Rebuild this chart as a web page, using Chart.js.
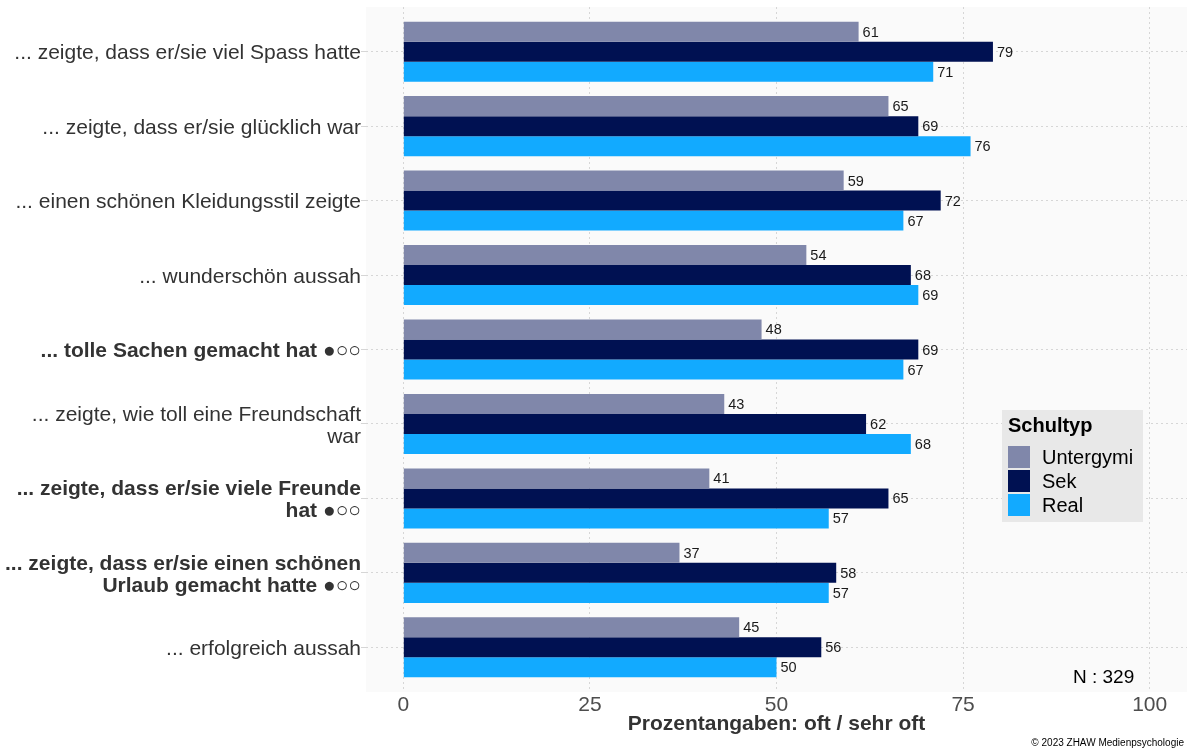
<!DOCTYPE html>
<html>
<head>
<meta charset="utf-8">
<script src="https://cdn.jsdelivr.net/npm/chart.js@4.4.0/dist/chart.umd.min.js"></script>
<style>
  body { margin: 0; background: #fff; }
  #wrap { width: 1187px; height: 751px; position: relative; }
</style>
</head>
<body>
<div id="wrap"><canvas id="surveyChart"></canvas></div>
<script>
// Kategorien (y-Achse)
const categories = [
    '... zeigte, dass er/sie viel Spass hatte',
    '... zeigte, dass er/sie glücklich war',
    '... einen schönen Kleidungsstil zeigte',
    '... wunderschön aussah',
    '... tolle Sachen gemacht hat ●○○',
    ['... zeigte, wie toll eine Freundschaft', 'war'],
    ['... zeigte, dass er/sie viele Freunde', 'hat ●○○'],
    ['... zeigte, dass er/sie einen schönen', 'Urlaub gemacht hatte ●○○'],
    '... erfolgreich aussah'
];
const boldCategories = [4, 6, 7];

// Werte pro Schultyp
const untergymi = [61, 65, 59, 54, 48, 43, 41, 37, 45];
const sek = [79, 69, 72, 68, 69, 62, 65, 58, 56];
const real = [71, 76, 67, 69, 67, 68, 57, 57, 50];

const seriesNames = ['Untergymi', 'Sek', 'Real'];
const seriesColors = ['#8087aa', '#001152', '#12aaff'];
const xTicks = [0, 25, 50, 75, 100];

const FONT = "'Liberation Sans', Arial, sans-serif";

function toPoints(values) {
    return values.map((v, i) => ({ x: v, y: i }));
}

// Hintergrund des Panels
const panelBg = {
    id: 'panelBg',
    beforeDraw(chart) {
        const { ctx, chartArea: a } = chart;
        ctx.save();
        ctx.fillStyle = '#fafafa';
        ctx.fillRect(a.left, a.top, a.right - a.left, a.bottom - a.top);
        ctx.restore();
    }
};

// Werte neben den Balken
const valueLabels = {
    id: 'valueLabels',
    afterDatasetsDraw(chart) {
        const ctx = chart.ctx;
        ctx.save();
        ctx.font = '14.5px ' + FONT;
        ctx.fillStyle = '#1a1a1a';
        ctx.textBaseline = 'middle';
        ctx.textAlign = 'left';
        chart.data.datasets.forEach((ds, di) => {
            chart.getDatasetMeta(di).data.forEach((bar, i) => {
                ctx.fillText(ds.data[i].x, bar.x + 4, bar.y + 1);
            });
        });
        ctx.restore();
    }
};

// Legende + Notizen
const extras = {
    id: 'extras',
    afterDraw(chart) {
        const ctx = chart.ctx;
        ctx.save();
        ctx.fillStyle = '#e8e8e8';
        ctx.fillRect(1002, 410, 141, 112);
        ctx.fillStyle = '#000';
        ctx.textBaseline = 'middle';
        ctx.textAlign = 'left';
        ctx.font = 'bold 20px ' + FONT;
        ctx.fillText('Schultyp', 1008, 426);
        ctx.font = '20px ' + FONT;
        chart.data.datasets.forEach((ds, i) => {
            const y = 446 + i * 24;
            ctx.fillStyle = ds.backgroundColor;
            ctx.fillRect(1008, y, 22, 22);
            ctx.fillStyle = '#000';
            ctx.fillText(ds.label, 1042, y + 12);
        });
        ctx.font = '19px ' + FONT;
        ctx.fillStyle = '#000';
        ctx.fillText('N : 329', 1073, 678);
        ctx.font = '10px ' + FONT;
        ctx.textAlign = 'right';
        ctx.fillStyle = '#000';
        ctx.fillText('© 2023 ZHAW Medienpsychologie', 1184, 743);
        ctx.restore();
    }
};

const ctx = document.getElementById('surveyChart').getContext('2d');
new Chart(ctx, {
    type: 'bar',
    data: {
        datasets: [
            { label: seriesNames[0], data: toPoints(untergymi), backgroundColor: seriesColors[0] },
            { label: seriesNames[1], data: toPoints(sek), backgroundColor: seriesColors[1] },
            { label: seriesNames[2], data: toPoints(real), backgroundColor: seriesColors[2] }
        ]
    },
    options: {
        indexAxis: 'y',
        responsive: true,
        maintainAspectRatio: false,
        animation: false,
        layout: { padding: { top: 7, right: 0, left: 0, bottom: 0 } },
        datasets: {
            bar: { categoryPercentage: 0.806, barPercentage: 1.0 }
        },
        plugins: {
            legend: { display: false },
            tooltip: { enabled: false }
        },
        scales: {
            x: {
                type: 'linear',
                min: -5,
                max: 105,
                afterBuildTicks: s => { s.ticks = xTicks.map(v => ({ value: v })); },
                afterFit: s => { s.height = 59; },
                border: { display: false, dash: [2, 3] },
                grid: { color: '#d6d6d6', drawTicks: false, lineWidth: 1 },
                ticks: {
                    padding: 1,
                    color: '#4d4d4d',
                    font: { family: FONT, size: 21 }
                },
                title: {
                    display: true,
                    text: 'Prozentangaben: oft / sehr oft',
                    color: '#333',
                    padding: { top: 0, bottom: 14 },
                    font: { family: FONT, size: 21, weight: 'bold' }
                }
            },
            y: {
                type: 'linear',
                min: -0.6,
                max: 8.6,
                reverse: true,
                offset: false,
                afterBuildTicks: s => { s.ticks = categories.map((c, i) => ({ value: i })); },
                afterFit: s => { s.width = 366; s.paddingTop = 0; s.paddingBottom = 0; },
                border: { display: false, dash: [2, 3] },
                grid: { color: '#d6d6d6', offset: false, drawTicks: true, tickLength: 5, lineWidth: 1 },
                ticks: {
                    padding: 0,
                    labelOffset: 2,
                    color: '#333',
                    callback: (v) => categories[v],
                    font: c => ({
                        family: FONT,
                        size: 21,
                        lineHeight: 1.05,
                        weight: boldCategories.includes(c.index) ? 'bold' : 'normal'
                    })
                }
            }
        }
    },
    plugins: [panelBg, valueLabels, extras]
});
</script>
</body>
</html>
